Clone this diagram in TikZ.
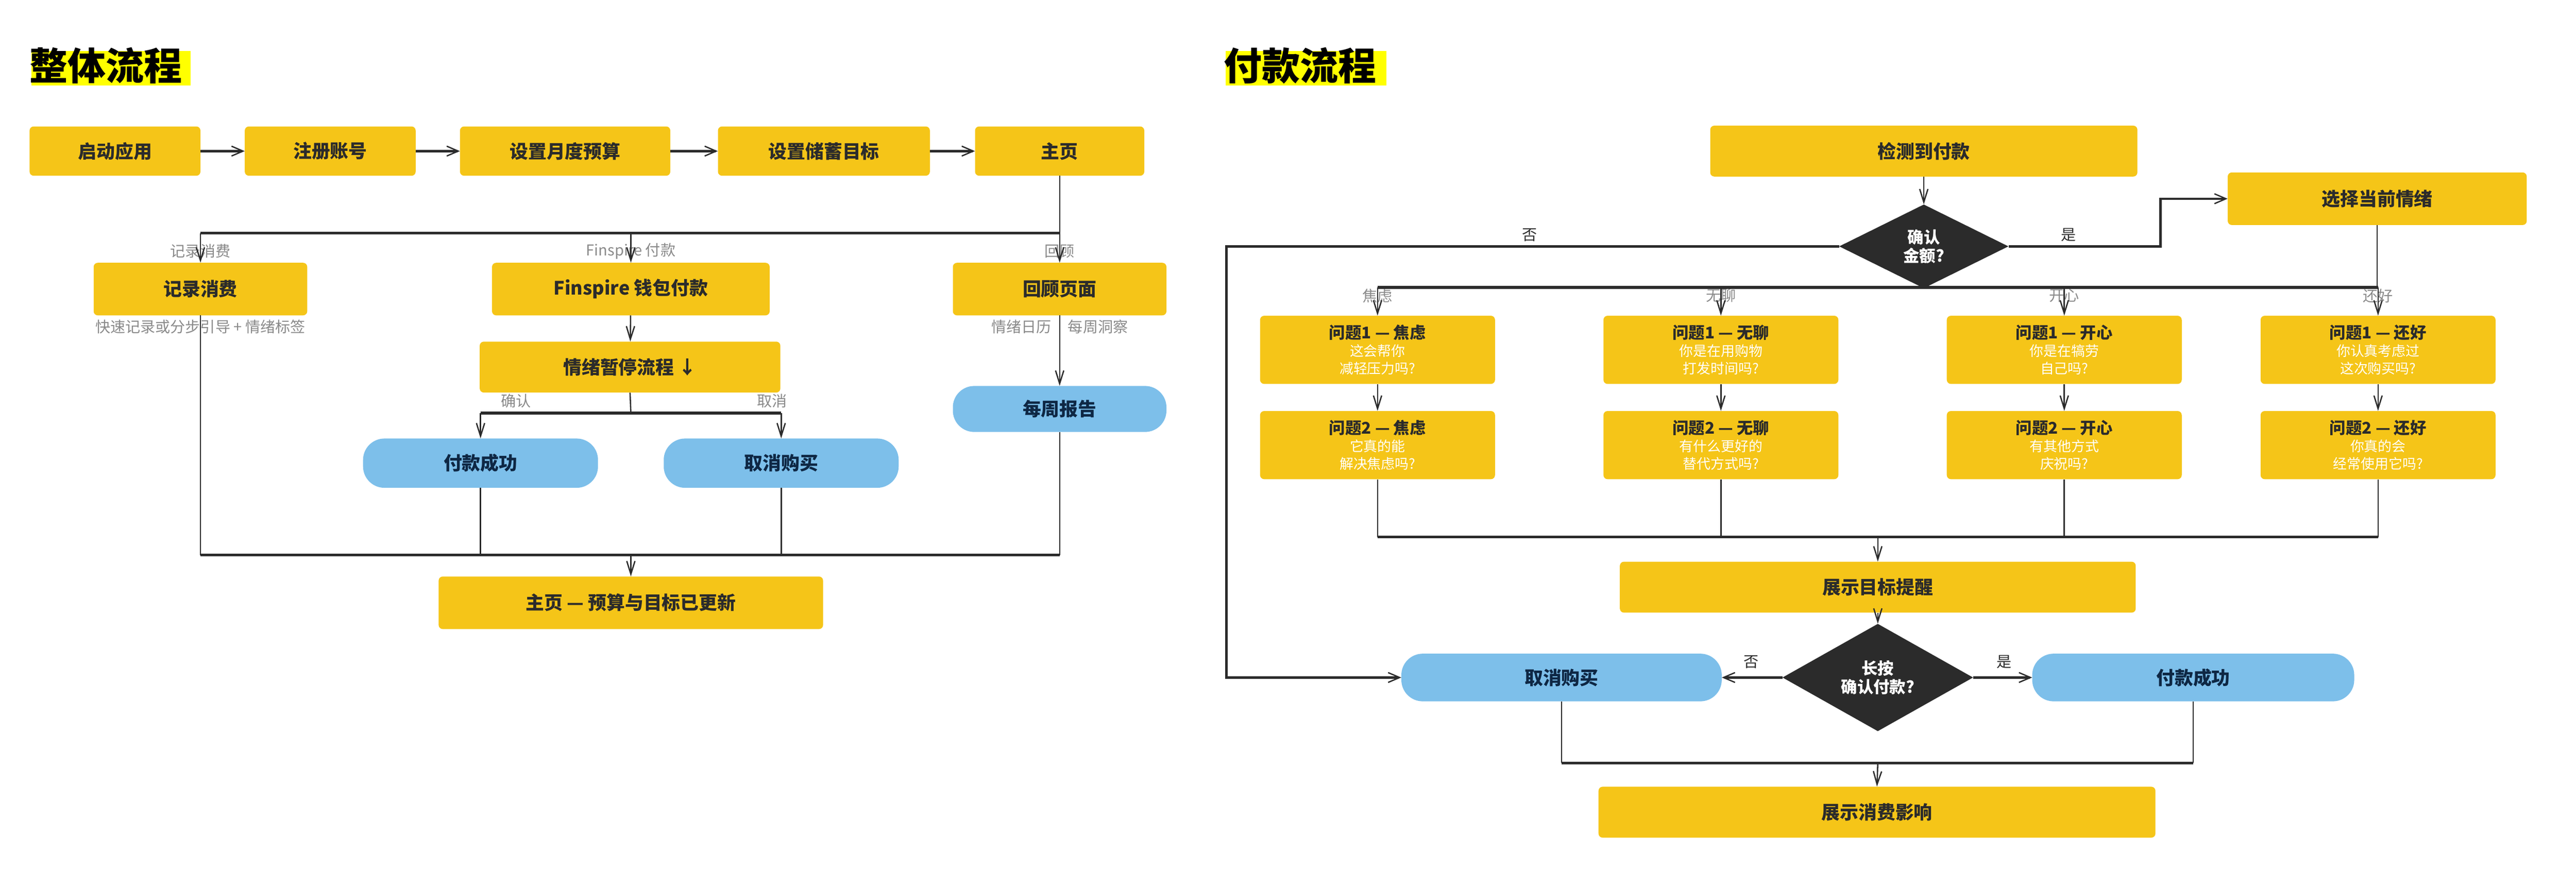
\documentclass[tikz,border=0pt]{standalone}
\usepackage{fontspec}
\setmainfont{Noto Sans CJK SC}
\usetikzlibrary{shapes.geometric,arrows.meta}
\definecolor{yel}{HTML}{F5C518}
\definecolor{blu}{HTML}{7DBFEA}
\definecolor{dk}{HTML}{2B2B2B}
\definecolor{navy}{HTML}{0E2744}
\definecolor{gry}{HTML}{8A8A8A}
\definecolor{hl}{HTML}{FFFF00}
\begin{document}
\begin{tikzpicture}[x=1mm,y=-1mm,
  box/.style={fill=yel,rounded corners=2.5mm,inner sep=0pt,font=\fontsize{32}{36}\selectfont\bfseries,text=dk,align=center},
  qbox/.style={fill=yel,rounded corners=2.5mm,inner sep=0pt,minimum width=143mm,minimum height=41.5mm,align=center,font=\fontsize{24}{30}\selectfont,text=white},
  pill/.style={fill=blu,rounded corners=13mm,inner sep=0pt,font=\fontsize{32}{36}\selectfont\bfseries,text=navy},
  dia/.style={diamond,fill=dk,inner sep=0pt,text=white,align=center,font=\fontsize{28}{32}\selectfont\bfseries},
  lab/.style={text=gry,font=\fontsize{26}{30}\selectfont,inner sep=0pt},
  blab/.style={text=dk,font=\fontsize{26}{30}\selectfont,inner sep=0pt},
  ln/.style={draw=dk,line width=0.8mm},
  bus/.style={draw=dk,line width=1.6mm},
  arr/.style={draw=dk,line width=0.8mm,-{Straight Barb[length=8mm,width=5mm,line width=0.8mm]}},
  tarr/.style={draw=dk,line width=1.4mm,-{Straight Barb[length=7mm,width=6mm,line width=0.8mm]}},
  title/.style={font=\fontsize{66}{70}\selectfont\bfseries,text=black,inner sep=0pt,anchor=west}]
\useasboundingbox (0,0) rectangle (1568,541);
% titles
\fill[hl] (19,31) rectangle (116,52);
\node[title] (t1) at (18,40) {整体流程};
\fill[hl] (746,31) rectangle (844,52);
\node[title] (t2) at (745,40) {付款流程};
% ===== left =====
\node[box,minimum width=104mm,minimum height=30mm] (s1) at (70,92) {启动应用};
\node[box,minimum width=104mm,minimum height=30mm] (s2) at (201,92) {注册账号};
\node[box,minimum width=128mm,minimum height=30mm] (s3) at (344,92) {设置月度预算};
\node[box,minimum width=129mm,minimum height=30mm] (s4) at (501.5,92) {设置储蓄目标};
\node[box,minimum width=103mm,minimum height=30mm] (s5) at (645,92) {主页};
\draw[tarr] (s1) -- (s2);
\draw[tarr] (s2) -- (s3);
\draw[tarr] (s3) -- (s4);
\draw[tarr] (s4) -- (s5);
\node[box,minimum width=130mm,minimum height=32mm] (rec) at (122,176) {记录消费};
\node[box,minimum width=169mm,minimum height=32mm] (fin) at (384,176) {Finspire 钱包付款};
\node[box,minimum width=130mm,minimum height=32mm] (rev) at (645,176) {回顾页面};
\coordinate (b1) at (645,142);
\draw[ln] (s5.south) -- (s5.south |- b1);
\draw[bus] (rec.north |- b1) -- (s5.south |- b1);
\node[lab] (l1) at (122,153) {记录消费};
\node[lab] (l2) at (384,153) {Finspire 付款};
\node[lab] (l3) at (645,153) {回顾};
\draw[arr] (rec.north |- b1) -- (rec.north);
\draw[arr] (fin.north |- b1) -- (fin.north);
\draw[arr] (rev.north |- b1) -- (rev.north);
\node[lab] (l4) at (122,199) {快速记录或分步引导 + 情绪标签};
\node[lab,anchor=east] (l5) at (640,199) {情绪日历};
\node[lab,anchor=west] (l6) at (650,199) {每周洞察};
\node[box,minimum width=183mm,minimum height=31mm] (emo) at (383.5,223.5) {情绪暂停流程 ↓};
\draw[arr] (fin) -- (emo);
\node[pill,minimum width=143mm,minimum height=30mm] (pay) at (292.5,282) {付款成功};
\node[pill,minimum width=143mm,minimum height=30mm] (can) at (475.5,282) {取消购买};
\node[pill,minimum width=130mm,minimum height=28mm] (wk) at (645,249) {每周报告};
\draw[arr] (rev) -- (wk);
\coordinate (b2) at (384,251.5);
\draw[ln] (emo.south) -- (b2);
\draw[bus] (pay.north |- b2) -- (can.north |- b2);
\draw[arr] (pay.north |- b2) -- (pay.north);
\draw[arr] (can.north |- b2) -- (can.north);
\node[lab] (l7) at (314,244) {确认};
\node[lab] (l8) at (470,244) {取消};
\node[box,minimum width=234mm,minimum height=32mm] (fin2) at (384,367) {主页 — 预算与目标已更新};
\coordinate (b3) at (384,338);
\draw[ln] (rec.south) -- (rec.south |- b3);
\draw[ln] (pay.south) -- (pay.south |- b3);
\draw[ln] (can.south) -- (can.south |- b3);
\draw[ln] (wk.south) -- (wk.south |- b3);
\draw[bus] (rec.south |- b3) -- (wk.south |- b3);
\draw[arr] (b3) -- (fin2.north);
% ===== right =====
\node[box,minimum width=260mm,minimum height=31mm] (det) at (1171,92) {检测到付款};
\node[dia,minimum width=103mm,minimum height=51mm] (d1) at (1171,150) {确认\\金额?};
\draw[arr] (det) -- (d1);
\node[box,minimum width=182mm,minimum height=32mm] (sel) at (1447,121) {选择当前情绪};
\draw[tarr] (d1.east) -- (1315,150) -- (1315,121) -- (sel.west);
\node[blab] (y1) at (1259,143) {是};
\node[blab] (n1) at (931,143) {否};
\coordinate (b4) at (1447,175);
\foreach \i/\x/\e in {1/838.5/焦虑,2/1047.5/无聊,3/1256.5/开心,4/1447.5/还好}{
  \node[lab] (e\i) at (\x,180) {\e};
}
\node[qbox] (qa1) at (838.5,213) {\textcolor{dk}{\fontsize{28}{32}\selectfont\bfseries 问题1 — 焦虑}\\这会帮你\\减轻压力吗?};
\node[qbox] (qb1) at (1047.5,213) {\textcolor{dk}{\fontsize{28}{32}\selectfont\bfseries 问题1 — 无聊}\\你是在用购物\\打发时间吗?};
\node[qbox] (qc1) at (1256.5,213) {\textcolor{dk}{\fontsize{28}{32}\selectfont\bfseries 问题1 — 开心}\\你是在犒劳\\自己吗?};
\node[qbox] (qd1) at (1447.5,213) {\textcolor{dk}{\fontsize{28}{32}\selectfont\bfseries 问题1 — 还好}\\你认真考虑过\\这次购买吗?};
\node[qbox] (qa2) at (838.5,271) {\textcolor{dk}{\fontsize{28}{32}\selectfont\bfseries 问题2 — 焦虑}\\它真的能\\解决焦虑吗?};
\node[qbox] (qb2) at (1047.5,271) {\textcolor{dk}{\fontsize{28}{32}\selectfont\bfseries 问题2 — 无聊}\\有什么更好的\\替代方式吗?};
\node[qbox] (qc2) at (1256.5,271) {\textcolor{dk}{\fontsize{28}{32}\selectfont\bfseries 问题2 — 开心}\\有其他方式\\庆祝吗?};
\node[qbox] (qd2) at (1447.5,271) {\textcolor{dk}{\fontsize{28}{32}\selectfont\bfseries 问题2 — 还好}\\你真的会\\经常使用它吗?};
\draw[ln] (sel.south) -- (sel.south |- b4);
\draw[bus] (qa1.north |- b4) -- (qd1.north |- b4);
\foreach \c in {a,b,c,d}{
  \draw[arr] (q\c1.north |- b4) -- (q\c1.north);
  \draw[arr] (q\c1) -- (q\c2);
}
\node[box,minimum width=314mm,minimum height=31mm] (goal) at (1143,357.5) {展示目标提醒};
\coordinate (b5) at (1143,327);
\foreach \c in {a,b,c,d}{\draw[ln] (q\c2.south) -- (q\c2.south |- b5);}
\draw[bus] (qa2.south |- b5) -- (qd2.south |- b5);
\draw[arr] (b5) -- (goal.north);
\node[dia,minimum width=116mm,minimum height=51mm] (d2) at (1143,412.5) {长按\\确认付款?};
\draw[arr] (goal) -- (d2);
\node[pill,minimum width=195mm,minimum height=29mm] (can2) at (950.5,412.5) {取消购买};
\node[pill,minimum width=196mm,minimum height=29mm] (pay2) at (1335,412.5) {付款成功};
\draw[tarr] (d2.west) -- (can2.east);
\draw[tarr] (d2.east) -- (pay2.west);
\node[blab] (n2) at (1066,403) {否};
\node[blab] (y2) at (1220,403) {是};
\draw[tarr] (d1.west) -- (746.5,150) -- (746.5,412.5) -- (can2.west);
\node[box,minimum width=339mm,minimum height=31mm] (imp) at (1142.5,494.5) {展示消费影响};
\coordinate (b6) at (1143,464.5);
\draw[ln] (can2.south) -- (can2.south |- b6);
\draw[ln] (pay2.south) -- (pay2.south |- b6);
\draw[bus] (can2.south |- b6) -- (pay2.south |- b6);
\draw[arr] (b6) -- (imp.north);
\end{tikzpicture}
\end{document}
